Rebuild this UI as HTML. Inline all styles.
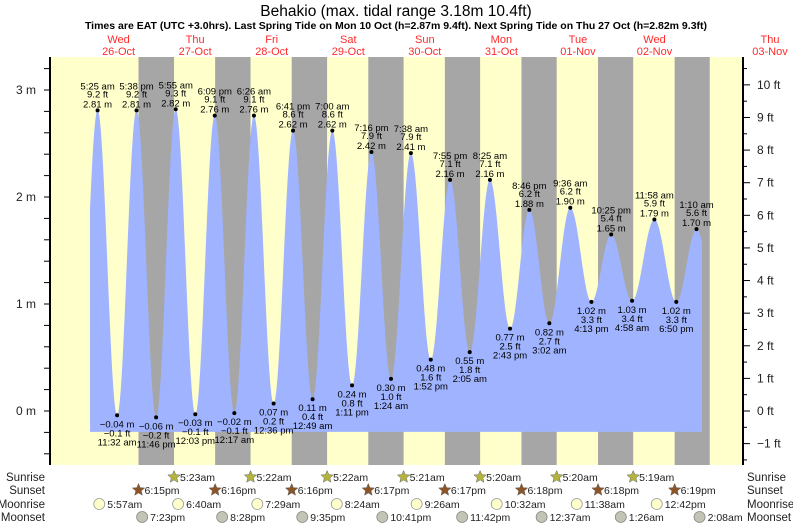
<!DOCTYPE html>
<html><head><meta charset="utf-8"><style>
html,body{margin:0;padding:0;background:#fff;}
svg{display:block;font-family:"Liberation Sans",sans-serif;}
</style></head><body>
<svg id="chart" width="793" height="525" viewBox="0 0 793 525" xmlns="http://www.w3.org/2000/svg">
<text x="396" y="16" text-anchor="middle" font-size="15.5" fill="#000">Behakio (max. tidal range 3.18m 10.4ft)</text>
<text x="396" y="29" text-anchor="middle" font-size="10.5" font-weight="bold" fill="#000">Times are EAT (UTC +3.0hrs). Last Spring Tide on Mon 10 Oct (h=2.87m 9.4ft). Next Spring Tide on Thu 27 Oct (h=2.82m 9.3ft)</text>
<g id="bg"></g>
<g id="tide"></g>
<g id="axes"></g>
<g id="days"></g>
<g id="astro"></g>
</svg>
<script>
// ---- data ----
var tideTimes = [ "10-25 23:15",
 "10-26 05:25","10-26 11:32","10-26 17:38","10-26 23:46",
 "10-27 05:55","10-27 12:03","10-27 18:09",
 "10-28 00:17","10-28 06:26","10-28 12:36","10-28 18:41",
 "10-29 00:49","10-29 07:00","10-29 13:11","10-29 19:16",
 "10-30 01:24","10-30 07:38","10-30 13:52","10-30 19:55",
 "10-31 02:05","10-31 08:25","10-31 14:43","10-31 20:46",
 "11-01 03:02","11-01 09:36","11-01 16:13","11-01 22:25",
 "11-02 04:58","11-02 11:58","11-02 18:50",
 "11-03 01:10","11-03 07:30"];
var tideHeights = [-0.05,
 2.81,-0.04,2.81,-0.06,
 2.82,-0.03,2.76,
 -0.02,2.76,0.07,2.62,
 0.11,2.62,0.24,2.42,
 0.30,2.41,0.48,2.16,
 0.55,2.16,0.77,1.88,
 0.82,1.90,1.02,1.65,
 1.03,1.79,1.02,
 1.70,1.00];
var tideLabels = ["",
 "5:25 am","11:32 am","5:38 pm","11:46 pm",
 "5:55 am","12:03 pm","6:09 pm",
 "12:17 am","6:26 am","12:36 pm","6:41 pm",
 "12:49 am","7:00 am","1:11 pm","7:16 pm",
 "1:24 am","7:38 am","1:52 pm","7:55 pm",
 "2:05 am","8:25 am","2:43 pm","8:46 pm",
 "3:02 am","9:36 am","4:13 pm","10:25 pm",
 "4:58 am","11:58 am","6:50 pm",
 "1:10 am",""];
var sunriseTimes = ["10-27 05:23","10-28 05:22","10-29 05:22","10-30 05:21","10-31 05:20","11-01 05:20","11-02 05:19","11-03 05:19"];
var sunriseLabels = ["5:23am","5:22am","5:22am","5:21am","5:20am","5:20am","5:19am"];
var sunsetTimes = ["10-26 18:15","10-27 18:16","10-28 18:16","10-29 18:17","10-30 18:17","10-31 18:18","11-01 18:18","11-02 18:19"];
var sunsetLabels = ["6:15pm","6:16pm","6:16pm","6:17pm","6:17pm","6:18pm","6:18pm","6:19pm"];
var moonriseTimes = ["10-26 05:57","10-27 06:40","10-28 07:29","10-29 08:24","10-30 09:26","10-31 10:32","11-01 11:38","11-02 12:42"];
var moonriseLabels = ["5:57am","6:40am","7:29am","8:24am","9:26am","10:32am","11:38am","12:42pm"];
var moonsetTimes = ["10-26 19:23","10-27 20:28","10-28 21:35","10-29 22:41","10-30 23:42","11-01 00:37","11-02 01:26","11-03 02:08"];
var moonsetLabels = ["7:23pm","8:28pm","9:35pm","10:41pm","11:42pm","12:37am","1:26am","2:08am"];
var dayNames = ["Wed","Thu","Fri","Sat","Sun","Mon","Tue","Wed","Thu"];
var dayDates = ["26-Oct","27-Oct","28-Oct","29-Oct","30-Oct","31-Oct","01-Nov","02-Nov","03-Nov"];
var mTicks = [0,1,2,3];
var ftTicks = [-1,0,1,2,3,4,5,6,7,8,9,10];

// ---- scales ----
var NS="http://www.w3.org/2000/svg";
var X0=80.3, PPH=3.19, Y0=411, PPM=107;
var PL=50, PR=743, PT=57, PB=465;
function hours(s){var p=s.split(" ");var md=p[0].split("-");var hm=p[1].split(":");
 var d=(md[0]=="10")?(+md[1]-26):(+md[1]+5);return d*24+(+hm[0])+(+hm[1])/60;}
function xs(h){return X0+h*PPH;}
function ys(m){return Y0-m*PPM;}
function mk(tag,attrs,parent){var e=document.createElementNS(NS,tag);for(var k in attrs)e.setAttribute(k,attrs[k]);parent.appendChild(e);return e;}
function txt(parent,x,y,s,size,anchor,fill){var t=mk("text",{x:x,y:y,"font-size":size,"text-anchor":anchor||"middle",fill:fill||"#000"},parent);t.textContent=s;return t;}

// background
var bg=document.getElementById("bg");
var r=mk("rect",{x:PL,y:PT,width:PR-PL,height:PB-PT,fill:"#ffffcc"},bg);


for(var i=0;i<sunsetTimes.length;i++){
 var a=xs(hours(sunsetTimes[i])), b=xs(hours(sunriseTimes[i]));
 var n=mk("rect",{x:a,y:PT,width:Math.min(b,PR)-a,height:PB-PT,fill:"#a6a6a6"},bg);
 
 
}

// tide curve
var tg=document.getElementById("tide");
var th=tideTimes.map(hours);
function tideAt(h){for(var i=0;i<th.length-1;i++){if(h>=th[i]&&h<=th[i+1]){var t=(h-th[i])/(th[i+1]-th[i]);return tideHeights[i]+(tideHeights[i+1]-tideHeights[i])*(1-Math.cos(Math.PI*t))/2;}}return tideHeights[th.length-1];}
var hs=(90-X0)/PPH, he=(702-X0)/PPH, base=-0.195;
var d="M"+xs(hs)+","+ys(base);
for(var h=hs;h<=he;h+=0.1){d+=" L"+xs(h).toFixed(2)+","+ys(tideAt(h)).toFixed(2);}
d+=" L"+xs(he)+","+ys(tideAt(he))+" L"+xs(he)+","+ys(base)+" Z";
var area=mk("path",{d:d,fill:"#9fb3ff"},tg);


for(var i=1;i<tideTimes.length-1;i++){
 var x=xs(th[i]), y=ys(tideHeights[i]), hi=tideHeights[i]>tideHeights[i-1];
 var c=mk("circle",{cx:x,cy:y,r:2,fill:"#000"},tg);
 
 
 var mtxt=tideHeights[i].toFixed(2).replace("-","\u2212")+" m";
 var ft=(tideHeights[i]/0.3048).toFixed(1).replace("-","\u2212")+" ft";
 var g=mk("g",{},tg);
 
 
 if(hi){txt(g,x,y-3,mtxt,9.5);txt(g,x,y-13,ft,9.5);txt(g,x,y-21,tideLabels[i],9.5);}
 else{txt(g,x,y+12,mtxt,9.5);txt(g,x,y+21,ft,9.5);txt(g,x,y+30,tideLabels[i],9.5);}
}

// axes
var ax=document.getElementById("axes");
var la=mk("line",{x1:PL,y1:PT,x2:PL,y2:PB,stroke:"#000","stroke-width":2},ax);


var ra=mk("line",{x1:PR,y1:PT,x2:PR,y2:PB,stroke:"#000","stroke-width":2},ax);


for(var v=-0.4;v<=3.41;v+=0.2){var yy=ys(v);if(yy<PT||yy>PB)continue;mk("line",{x1:PL-6,y1:yy,x2:PL,y2:yy,stroke:"#000","stroke-width":1},ax);}
mTicks.forEach(function(m){var t=txt(ax,36,ys(m)+4,m+" m",12,"end","#222");
 
 });
for(var f=-1.5;f<=10.6;f+=0.5){var yy=ys(f*0.3048);if(yy<PT||yy>PB)continue;mk("line",{x1:PR,y1:yy,x2:PR+(f%1==0?7:4),y2:yy,stroke:"#000","stroke-width":1},ax);}
ftTicks.forEach(function(f){var t=txt(ax,757,ys(f*0.3048)+4,(f<0?"\u2212"+(-f):f)+" ft",12,"start","#222");
 
 });

// day labels
var dg=document.getElementById("days");
for(var i=0;i<dayNames.length;i++){var x=i<8?xs(i*24+12):770;
 var g=mk("g",{},dg);
 
 
 txt(g,x,43,dayNames[i],11,"middle","#ff2a2a");txt(g,x,55,dayDates[i],11,"middle","#ff2a2a");}

// astro rows
var ag=document.getElementById("astro");
var rows=[["Sunrise",477],["Sunset",490],["Moonrise",504],["Moonset",517]];
rows.forEach(function(r){var a=txt(ag,45,r[1]+4,r[0],11.5,"end","#222");
 
 
 var b=txt(ag,747,r[1]+4,r[0],11.5,"start","#222");
 
 });
function star(cx,cy,R,fill){var p="";for(var k=0;k<10;k++){var rr=k%2?R*0.45:R;var an=-Math.PI/2+k*Math.PI/5;p+=(cx+rr*Math.cos(an)).toFixed(2)+","+(cy+rr*Math.sin(an)).toFixed(2)+" ";}
 return mk("polygon",{points:p,fill:fill,stroke:"#666","stroke-width":0.5},ag);}
for(var i=0;i<sunriseLabels.length;i++){var x=xs(hours(sunriseTimes[i]));var s=star(x,477,6.5,"#b4b43c");
 
 
 txt(ag,x+6,481,sunriseLabels[i],10.5,"start","#222");}
for(var i=0;i<sunsetLabels.length;i++){var x=xs(hours(sunsetTimes[i]));var s=star(x,490,6.5,"#8b5527");
 
 
 txt(ag,x+6,494,sunsetLabels[i],10.5,"start","#222");}
for(var i=0;i<moonriseLabels.length;i++){var x=xs(hours(moonriseTimes[i]));var c=mk("circle",{cx:x,cy:504,r:5.5,fill:"#ffffcc",stroke:"#999","stroke-width":0.8},ag);
 
 
 txt(ag,x+8,508,moonriseLabels[i],10.5,"start","#222");}
for(var i=0;i<moonsetLabels.length;i++){var x=xs(hours(moonsetTimes[i]));var c=mk("circle",{cx:x,cy:517,r:5.5,fill:"#c4c4b4",stroke:"#888","stroke-width":0.8},ag);
 
 
 txt(ag,x+8,521,moonsetLabels[i],10.5,"start","#222");}
</script>
</body></html>
